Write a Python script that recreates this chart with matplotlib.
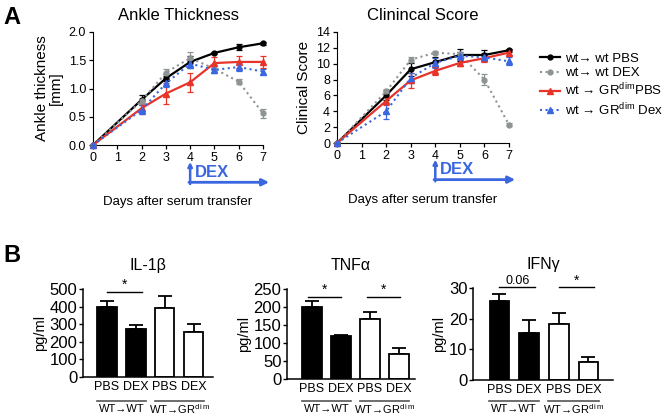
import numpy as np
import matplotlib
matplotlib.use("Agg")
import matplotlib.pyplot as plt

plt.rcParams['font.family'] = ['Liberation Sans', 'DejaVu Sans']
plt.rcParams['mathtext.fontset'] = 'custom'
plt.rcParams['mathtext.rm'] = 'Liberation Sans'
plt.rcParams['mathtext.it'] = 'Liberation Sans'

W, H = 669, 416

# ---- datos panel A ----
days = [0, 2, 3, 4, 5, 6, 7]
ankle_pbs = [0, 0.80, 1.18, 1.47, 1.63, 1.73, 1.80]
ankle_pbs_err = [0, 0.09, 0.05, 0.10, 0.02, 0.05, 0.03]
ankle_dex = [0, 0.78, 1.28, 1.54, 1.35, 1.12, 0.56]
ankle_dex_err = [0, 0.05, 0.06, 0.10, 0.05, 0.04, 0.08]
ankle_grpbs = [0, 0.65, 0.91, 1.11, 1.45, 1.47, 1.47]
ankle_grpbs_err = [0, 0.10, 0.18, 0.17, 0.10, 0.10, 0.10]
ankle_grdex = [0, 0.62, 1.09, 1.44, 1.33, 1.38, 1.30]
ankle_grdex_err = [0, 0.08, 0.07, 0.07, 0.06, 0.07, 0.05]

score_pbs = [0, 6.0, 9.3, 10.2, 11.1, 11.1, 11.7]
score_pbs_err = [0, 0.6, 0.8, 0.6, 0.8, 0.6, 0.2]
score_dex = [0, 6.5, 10.5, 11.4, 11.2, 8.0, 2.3]
score_dex_err = [0, 0.3, 0.3, 0.2, 0.3, 0.7, 0.2]
score_grpbs = [0, 5.3, 7.9, 9.1, 10.1, 10.7, 11.4]
score_grpbs_err = [0, 0.5, 0.9, 0.5, 0.4, 0.5, 0.3]
score_grdex = [0, 4.0, 8.2, 10.1, 11.0, 10.8, 10.3]
score_grdex_err = [0, 1.0, 0.6, 0.6, 0.5, 0.5, 0.5]

legend_labels = ["wt\u2192 wt PBS", "wt\u2192 wt DEX",
                 "wt \u2192 GR$^{\\mathrm{dim}}$PBS",
                 "wt \u2192 GR$^{\\mathrm{dim}}$ Dex"]

# ---- datos panel B ----
bar_labels = ["PBS", "DEX", "PBS", "DEX"]
group_labels = ["WT\u2192WT", "WT\u2192GR$^{\\mathrm{d\\,i\\,m}}$"]
il1b = [400, 270, 390, 255]
il1b_err = [30, 28, 70, 45]
tnfa = [200, 120, 168, 70]
tnfa_err = [18, 3, 18, 15]
ifng = [25.8, 15.3, 18.3, 5.9]
ifng_err = [2.3, 4.2, 3.5, 1.5]

BLACK = "black"
GRAY = "#8e9494"
RED = "#e8332b"
BLUE = "#3a66e0"


def rect(l, t, r, b):
    return [l / W, 1 - b / H, (r - l) / W, (b - t) / H]


fig = plt.figure(figsize=(W / 100, H / 100), dpi=100)


def panel_a(ax, series, ylim, yticks, ylabel, title):
    styles = [
        (BLACK, "-", "o", 3.5),
        (GRAY, ":", "o", 3.5),
        (RED, "-", "^", 4),
        (BLUE, ":", "^", 4),
    ]
    handles = []
    for (y, err), (c, ls, m, ms) in zip(series, styles):
        h = ax.errorbar(days, y, yerr=err, color=c, ls=ls, marker=m, ms=ms,
                        lw=1.6 if ls == "-" else 1.5, capsize=2, elinewidth=0.9,
                        capthick=0.9, clip_on=False, zorder=3)
        handles.append(h[0])
    ax.set_xlim(0, 7)
    ax.set_ylim(*ylim)
    ax.set_yticks(yticks)
    ax.set_xticks(range(8))
    ax.spines[['top', 'right']].set_visible(False)
    ax.tick_params(labelsize=9, length=3, width=0.9, pad=2)
    ax.set_ylabel(ylabel, fontsize=11, labelpad=4, linespacing=1.0)
    ax.set_title(title, fontsize=12, pad=9)
    ax.set_xlabel("Days after serum transfer", fontsize=9.5, labelpad=23)
    # flecha DEX
    tr = ax.get_xaxis_transform()
    ax.annotate("", xy=(7.25, -0.33), xytext=(3.95, -0.33), xycoords=tr,
                textcoords=tr,
                arrowprops=dict(arrowstyle="-|>", color=BLUE, lw=2,
                                mutation_scale=10, shrinkA=0, shrinkB=0))
    ax.annotate("", xy=(4, -0.15), xytext=(4, -0.345), xycoords=tr,
                textcoords=tr,
                arrowprops=dict(arrowstyle="-|>", color=BLUE, lw=1.8,
                                mutation_scale=6, shrinkA=0, shrinkB=0))
    ax.text(4.18, -0.24, "DEX", transform=tr, color=BLUE, fontsize=12,
            fontweight="bold", va="center", ha="left")
    return handles


ax1 = fig.add_axes(rect(93, 32, 263, 145))
panel_a(ax1, [(ankle_pbs, ankle_pbs_err), (ankle_dex, ankle_dex_err),
              (ankle_grpbs, ankle_grpbs_err), (ankle_grdex, ankle_grdex_err)],
        (0, 2), [0, 0.5, 1.0, 1.5, 2.0], "Ankle thickness\n[mm]",
        "Ankle Thickness")
ax1.set_yticklabels(["0.0", "0.5", "1.0", "1.5", "2.0"])

ax2 = fig.add_axes(rect(337, 32, 509, 143))
hs = panel_a(ax2, [(score_pbs, score_pbs_err), (score_dex, score_dex_err),
                   (score_grpbs, score_grpbs_err), (score_grdex, score_grdex_err)],
             (0, 14), range(0, 15, 2), "Clinical Score", "Clinincal Score")

fig.legend(hs, legend_labels,
           loc="upper left", bbox_to_anchor=(535 / W, 1 - 47 / H), frameon=False,
           fontsize=9.5, handlelength=1.5, handletextpad=0.35, labelspacing=0.2,
           borderaxespad=0)

fig.text(3 / W, 1 - 18 / H, "A", fontsize=17, fontweight="bold", va="center")
fig.text(3 / W, 1 - 255 / H, "B", fontsize=17, fontweight="bold", va="center")


def panel_b(ax, vals, errs, yticks, title, x_left, x_right, sigs):
    x = np.arange(4)
    colors = ["black", "black", "white", "white"]
    ax.bar(x, vals, width=0.66, color=colors, edgecolor="black", lw=1.3,
           zorder=2)
    ax.errorbar(x, vals, yerr=[np.zeros(4), errs], fmt="none", ecolor="black",
                capsize=5, elinewidth=1.3, capthick=1.3, zorder=1)
    ax.set_xlim(x_left, x_right)
    ax.set_ylim(0, yticks[-1])
    ax.set_yticks(yticks)
    ax.set_xticks(x)
    ax.set_xticklabels(bar_labels, fontsize=9)
    ax.tick_params(axis="x", length=0, pad=3)
    ax.tick_params(axis="y", labelsize=12, length=3, width=1, pad=1)
    ax.spines[['top', 'right']].set_visible(False)
    ax.spines[['left', 'bottom']].set_linewidth(1.1)
    ax.set_ylabel("pg/ml", fontsize=10.5, labelpad=2)
    ax.set_title(title, fontsize=11.5, pad=14)
    # lineas y textos de grupo en pixeles de la figura
    pos = ax.get_position()
    bottom_px = (1 - pos.y0) * H
    h_px = pos.height * H
    y_line = -(401 - bottom_px) / h_px
    y_text = -(409 - bottom_px) / h_px
    tr = ax.get_xaxis_transform()
    for x0, lab in zip([0.5, 2.5], group_labels):
        ax.plot([x0 - 0.85, x0 + 0.85], [y_line, y_line], color="#555555",
                lw=1.2, transform=tr, clip_on=False)
        ax.text(x0, y_text, lab, transform=tr, ha="center", va="center",
                fontsize=8)
    for x0, x1, yv, lab in sigs:
        ax.plot([x0, x1], [yv, yv], color="black", lw=1, clip_on=False)
        ax.text((x0 + x1) / 2, yv, lab, ha="center", va="bottom",
                fontsize=9 if lab != "*" else 10)


ax3 = fig.add_axes(rect(83, 289, 213, 377))
panel_b(ax3, il1b, il1b_err, [0, 100, 200, 300, 400, 500], "IL-1\u03b2",
        -0.83, 3.66, [(0.0, 1.2, 483, "*")])

ax4 = fig.add_axes(rect(287, 289, 415, 379))
panel_b(ax4, tnfa, tnfa_err, [0, 50, 100, 150, 200, 250], "TNF\u03b1",
        -0.86, 3.55, [(-0.15, 1.0, 228, "*"), (1.9, 3.05, 228, "*")])

ax5 = fig.add_axes(rect(473, 288, 613, 380))
panel_b(ax5, ifng, ifng_err, [0, 10, 20, 30], "IFN\u03b3",
        -0.89, 3.83, [(0.0, 1.2, 30.2, "0.06"), (2.0, 3.2, 30.2, "*")])

fig.savefig("out.png", dpi=100)
